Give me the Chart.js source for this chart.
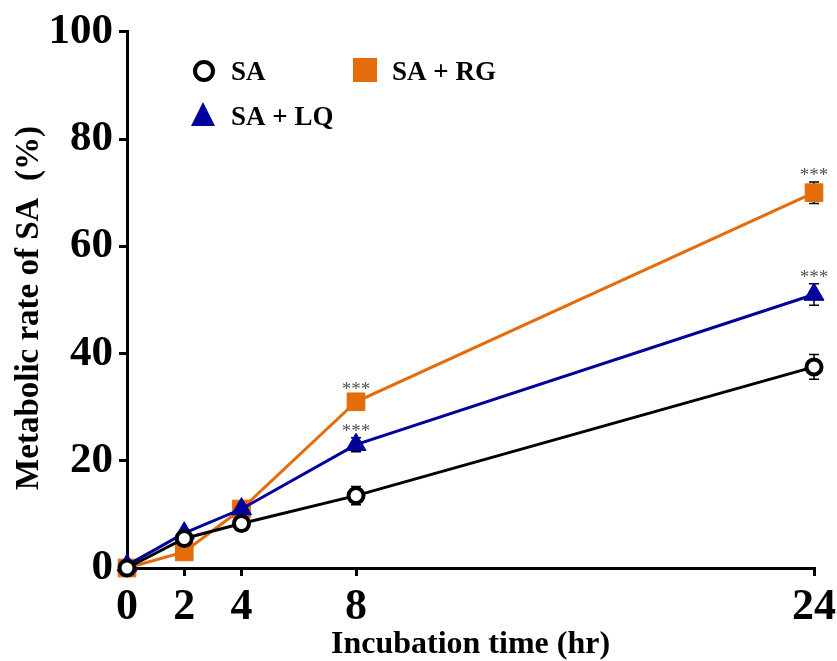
<!DOCTYPE html>
<html>
<head>
<meta charset="utf-8">
<script src="https://cdn.jsdelivr.net/npm/chart.js@4/dist/chart.umd.min.js"></script>
<style>
  html, body { margin: 0; padding: 0; background: #fff; }
  #wrap { width: 837px; height: 661px; }
</style>
</head>
<body>
<div id="wrap"><canvas id="metab" width="837" height="661"></canvas></div>
<script>
// temps d'incubation (hr)
const heures = [0, 2, 4, 8, 24];
const xTicks = [0, 2, 4, 8, 24];

// taux metabolique (%)
const valSA   = [0, 5.5, 8.3, 13.5, 37.5];
const valLQ   = [0.5, 6.5, 11, 23, 51];
const valRG   = [0, 3, 11, 31, 70];

// erreurs (+/-)
const errSA = [0, 0.8, 0.8, 1.7, 2.3];
const errLQ = [0, 0.5, 0.8, 1.3, 2];
const errRG = [0, 0.5, 0.8, 1, 2];

// significativite
const sigLQ = ["", "", "", "***", "***"];
const sigRG = ["", "", "", "***", "***"];

const serif = "'Liberation Serif', 'Times New Roman', serif";
const noir = "#000000", bleu = "#00009c", orange = "#e46c0a";

function pts(vals){ return heures.map((h,i)=>({x:h, y:vals[i]})); }

// barres d'erreur (derriere les points)
const errPlugin = {
  id: 'errbars',
  beforeDatasetsDraw(chart){
    const ctx = chart.ctx;
    const xs = chart.scales.x, ys = chart.scales.y;
    chart.data.datasets.forEach(ds => {
      ctx.save();
      ctx.strokeStyle = '#000';
      ctx.lineWidth = 1.5;
      ds.err.forEach((e,i) => {
        if(!e) return;
        const px = xs.getPixelForValue(heures[i]);
        const top = ys.getPixelForValue(ds.vals[i] + e);
        const bot = ys.getPixelForValue(ds.vals[i] - e);
        ctx.beginPath();
        ctx.moveTo(px, top); ctx.lineTo(px, bot);
        ctx.moveTo(px-5, top); ctx.lineTo(px+5, top);
        ctx.moveTo(px-5, bot); ctx.lineTo(px+5, bot);
        ctx.stroke();
      });
      ctx.restore();
    });
  },
  afterDatasetsDraw(chart){
    const ctx = chart.ctx;
    const xs = chart.scales.x, ys = chart.scales.y;
    chart.data.datasets.forEach(ds => {
      if(!ds.sig) return;
      ctx.save();
      ctx.fillStyle = '#555';
      ctx.font = "19px " + serif;
      ctx.textAlign = 'center';
      ctx.textBaseline = 'alphabetic';
      ds.sig.forEach((s,i) => {
        if(!s) return;
        const px = xs.getPixelForValue(heures[i]);
        const py = ys.getPixelForValue(ds.vals[i] + ds.err[i]);
        ctx.fillText(s, px, py - 1);
      });
      ctx.restore();
    });
  }
};

// legende + titre de l'axe y dessines a la main
const legendePlugin = {
  id: 'legende',
  afterDraw(chart){
    const ctx = chart.ctx;
    ctx.save();
    ctx.font = "bold 27px " + serif;
    ctx.textBaseline = 'alphabetic';
    ctx.textAlign = 'left';
    // SA
    ctx.beginPath();
    ctx.arc(204, 71, 9, 0, Math.PI*2);
    ctx.fillStyle = '#fff'; ctx.fill();
    ctx.lineWidth = 4; ctx.strokeStyle = noir; ctx.stroke();
    ctx.fillStyle = '#000';
    ctx.fillText("SA", 231, 80);
    // SA + RG
    ctx.fillStyle = orange;
    ctx.fillRect(353, 58, 24, 24);
    ctx.fillStyle = '#000';
    ctx.fillText("SA + RG", 392, 80);
    // SA + LQ
    ctx.fillStyle = bleu;
    ctx.beginPath();
    ctx.moveTo(203, 102); ctx.lineTo(215, 126); ctx.lineTo(191, 126); ctx.closePath();
    ctx.fill();
    ctx.fillStyle = '#000';
    ctx.fillText("SA + LQ", 231, 125);

    // titre axe y
    ctx.translate(29, 308);
    ctx.rotate(-Math.PI/2);
    ctx.textAlign = 'center';
    ctx.textBaseline = 'middle';
    ctx.font = "bold 33px " + serif;
    ctx.fillText("Metabolic rate of SA  (%)", 0, 0);
    ctx.restore();
  }
};

new Chart(document.getElementById("metab"), {
  type: 'line',
  data: {
    datasets: [
      { label: 'SA', data: pts(valSA), vals: valSA, err: errSA, sig: null,
        borderColor: noir, borderWidth: 3, pointStyle: 'circle', pointRadius: 7.5,
        pointBackgroundColor: '#fff', pointBorderColor: noir, pointBorderWidth: 4, clip: false },
      { label: 'SA + LQ', data: pts(valLQ), vals: valLQ, err: errLQ, sig: sigLQ,
        borderColor: bleu, borderWidth: 3, pointStyle: 'triangle', pointRadius: 11.5,
        pointBackgroundColor: bleu, pointBorderColor: bleu, pointBorderWidth: 1, clip: false },
      { label: 'SA + RG', data: pts(valRG), vals: valRG, err: errRG, sig: sigRG,
        borderColor: orange, borderWidth: 3, pointStyle: 'rect', pointRadius: 12.5,
        pointBackgroundColor: orange, pointBorderColor: orange, pointBorderWidth: 1, clip: false }
    ]
  },
  options: {
    responsive: false,
    animation: false,
    layout: { padding: { top: 29, right: 0, left: 0, bottom: 0 } },
    plugins: { legend: { display: false }, tooltip: { enabled: false } },
    scales: {
      x: {
        type: 'linear', min: 0, max: 24,
        afterBuildTicks: s => { s.ticks = xTicks.map(v => ({ value: v })); },
        afterFit: s => { s.height = 93; s.paddingRight = 23; },
        grid: { drawOnChartArea: false, drawTicks: true, tickLength: 8, lineWidth: 3, color: '#000' },
        border: { display: true, width: 3, color: '#000' },
        ticks: { color: '#000', padding: 5, maxRotation: 0, font: { family: serif, weight: 'bold', size: 44 } },
        title: { display: true, text: 'Incubation time (hr)', color: '#000', padding: { top: 0, bottom: 0 },
                 font: { family: serif, weight: 'bold', size: 32, lineHeight: 1 } }
      },
      y: {
        min: 0, max: 100,
        ticks: { stepSize: 20, color: '#000', padding: 6, font: { family: serif, weight: 'bold', size: 43 } },
        afterFit: s => { s.width = 127; },
        grid: { drawOnChartArea: false, drawTicks: true, tickLength: 8, lineWidth: 3, color: '#000' },
        border: { display: true, width: 3, color: '#000' }
      }
    }
  },
  plugins: [errPlugin, legendePlugin]
});
</script>
</body>
</html>
